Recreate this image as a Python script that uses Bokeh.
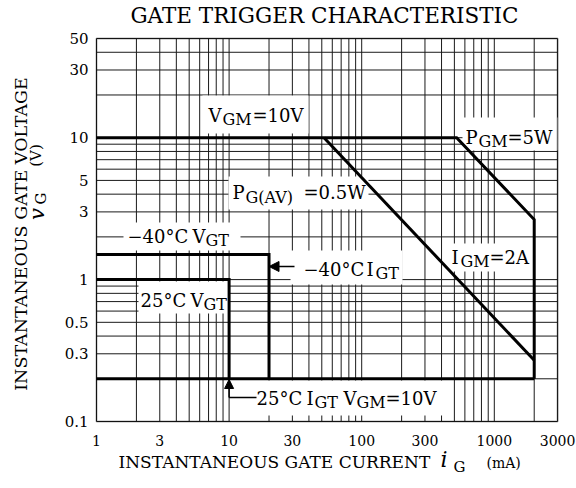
import math
from bokeh.plotting import figure
from bokeh.models import (Range1d, FixedTicker, CustomJSTickFormatter, Label,
                          BoxAnnotation, Arrow, NormalHead)
from bokeh.embed import file_html
from bokeh.resources import INLINE

# ---------------- data ----------------
x_ticks = [1, 3, 10, 30, 100, 300, 1000, 3000]
y_ticks = [0.1, 0.3, 0.5, 1, 3, 5, 10, 30, 50]
x_grid = [1, 2, 3, 4, 5, 6, 7, 8, 9, 10, 20, 30, 40, 50, 60, 70, 80, 90,
          100, 200, 300, 400, 500, 600, 700, 800, 900, 1000, 2000, 3000]
y_grid = [0.1, 0.2, 0.3, 0.4, 0.5, 0.6, 0.7, 0.8, 0.9, 1, 2, 3, 4, 5, 6, 7,
          8, 9, 10, 20, 30, 40, 50]

# peak gate limits: VGM=10V, PGM=5W, IGM=2A (mA, V)
peak_i = [1, 520, 2000, 2000]
peak_v = [10, 10, 2.65, 0.2]
# average gate power PG(AV)=0.5W
pav_i = [52, 2000]
pav_v = [10, 0.27]
# -40C trigger region
m40_i = [1, 20, 20]
m40_v = [1.5, 1.5, 0.2]
# 25C trigger region
t25_i = [1, 10, 10]
t25_v = [1.0, 1.0, 0.2]
# non-trigger voltage line
vgd_i = [1, 2000]
vgd_v = [0.2, 0.2]

FONT = "DejaVu Serif"
W, H = 576, 488

# canvas-pixel layout helpers (chart box: left 96, right 557, top 38, bottom 421)
FL, FB = 96.0, 421.0
XPD, YPD = 132.6, 141.9


def dx(px):
    return 10 ** ((px - FL) / XPD)


def dy(py):
    return 10 ** ((FB - py) / YPD - 1)


# the frame fills the whole canvas; the chart box is placed through the ranges
p = figure(width=W, height=H, x_axis_type="log", y_axis_type="log",
           x_range=Range1d(dx(0), dx(W)), y_range=Range1d(dy(H), dy(0)),
           output_backend="svg", toolbar_location=None,
           min_border=0)
p.title.visible = False
p.background_fill_color = "white"
p.border_fill_color = "white"
p.outline_line_color = None
p.xgrid.visible = False
p.ygrid.visible = False

x0, x1 = x_grid[0], x_grid[-1]
y0, y1 = y_grid[0], y_grid[-1]

for ax, ticks, loc, bnds in ((p.xaxis, x_ticks, y0, (x0, x1)),
                             (p.yaxis, y_ticks, x0, (y0, y1))):
    ax.ticker = FixedTicker(ticks=ticks)
    ax.fixed_location = loc
    ax.bounds = bnds
    ax.axis_line_color = None
    ax.major_tick_line_color = None
    ax.minor_tick_line_color = None
    ax.major_tick_out = 0
    ax.major_tick_in = 0
    ax.major_label_text_font = FONT
    ax.major_label_text_color = "black"
    ax.formatter = CustomJSTickFormatter(code="return tick.toString();")
p.xaxis.major_label_text_font_size = "14px"
p.yaxis.major_label_text_font_size = "15px"
p.xaxis.major_label_standoff = 13
p.yaxis.major_label_standoff = 8

# grid lines of the log paper
p.segment(x0=x_grid, y0=[y0] * len(x_grid), x1=x_grid, y1=[y1] * len(x_grid),
          line_color="#1a1a1a", line_width=1, level="image")
p.segment(x0=[x0] * len(y_grid), y0=y_grid, x1=[x1] * len(y_grid), y1=y_grid,
          line_color="#1a1a1a", line_width=1, level="image")

# white label boxes (canvas px: left, right, top, bottom)
boxes = [(202, 308, 95, 133), (462, 557, 117, 150), (228, 368, 176, 209),
         (123, 240, 222, 250), (290, 402, 250, 284), (138, 228, 281, 313),
         (448, 532, 243, 271), (233, 446, 380, 415)]
for l, r, t, b in boxes:
    p.add_layout(BoxAnnotation(left=dx(l), right=dx(r), top=dy(t), bottom=dy(b),
                               fill_color="white", fill_alpha=1.0,
                               line_color=None, level="underlay"))

# chart border
p.add_layout(BoxAnnotation(left=x0, right=x1, bottom=y0, top=y1,
                           fill_alpha=0, line_color="black", line_width=2))

for xs, ys in ((peak_i, peak_v), (pav_i, pav_v), (m40_i, m40_v),
               (t25_i, t25_v), (vgd_i, vgd_v)):
    p.line(xs, ys, line_color="black", line_width=3, line_join="miter")

# arrows
p.add_layout(Arrow(end=NormalHead(size=10, fill_color="black", line_color="black"),
                   x_start=dx(294), y_start=dy(266), x_end=m40_i[1], y_end=dy(266),
                   line_width=1.5, line_color="black"))
p.add_layout(Arrow(end=None, x_start=dx(256), y_start=dy(397),
                   x_end=t25_i[1], y_end=dy(397), line_width=1.5, line_color="black"))
p.add_layout(Arrow(end=NormalHead(size=9, fill_color="black", line_color="black"),
                   x_start=t25_i[1], y_start=dy(397), x_end=t25_i[1], y_end=dy(379),
                   line_width=1.5, line_color="black"))


def lab(text, px, py, size, style="normal", align="left", angle=0.0):
    # (px, py): canvas pixels from top-left; py is the vertical middle of the text
    p.add_layout(Label(x=px, y=H - py, x_units="screen", y_units="screen",
                       text=text, text_font=FONT,
                       text_font_size=f"{size}px", text_font_style=style,
                       text_align=align, text_baseline="middle",
                       angle=angle, text_color="black"))


pieces = [
    ("V", 208, 115, 18), ("GM", 222, 119, 16), ("=10V", 252, 115, 18),
    ("P", 465, 136.5, 18), ("GM", 478, 140.5, 16), ("=5W", 507, 136.5, 18),
    ("P", 232, 191.5, 18), ("G(AV)", 245, 197, 16), ("=0.5W", 303, 191.5, 18),
    ("\u221240\u00b0C", 127, 236, 18), ("V", 192, 236, 18), ("GT", 205, 240, 16),
    ("\u221240\u00b0C", 303, 268.5, 18), ("I", 366, 268.5, 18), ("GT", 375, 272.5, 16),
    ("25\u00b0C", 140, 299.5, 18), ("V", 190, 299.5, 18), ("GT", 203, 303.5, 16),
    ("I", 451, 256.5, 18), ("GM", 460, 260.5, 16), ("=2A", 489, 256.5, 18),
    ("25\u00b0C", 256, 397.5, 18), ("I", 306, 397.5, 18), ("GT", 314, 401.5, 16),
    ("V", 343, 397.5, 18), ("GM", 356, 401.5, 16), ("=10V", 385, 397.5, 18),
]
for t, px, py, s in pieces:
    lab(t, px, py, s)

# title
lab("GATE TRIGGER CHARACTERISTIC", 324, 15, 21.5, align="center")
# x axis label
lab("INSTANTANEOUS GATE CURRENT", 118, 461.5, 17)
lab("i", 440, 459, 22, style="italic")
lab("G", 453, 466, 15)
lab("(mA)", 486, 462, 14)
# y axis label (rotated)
lab("INSTANTANEOUS GATE VOLTAGE", 20.7, 233.5, 17.5, align="center", angle=math.pi / 2)
lab("v", 36, 213.5, 21, style="italic", align="center", angle=math.pi / 2)
lab("G", 40.5, 198, 15, align="center", angle=math.pi / 2)
lab("(V)", 35.5, 155, 15, align="center", angle=math.pi / 2)

open("out.html", "w").write(file_html(p, INLINE))
